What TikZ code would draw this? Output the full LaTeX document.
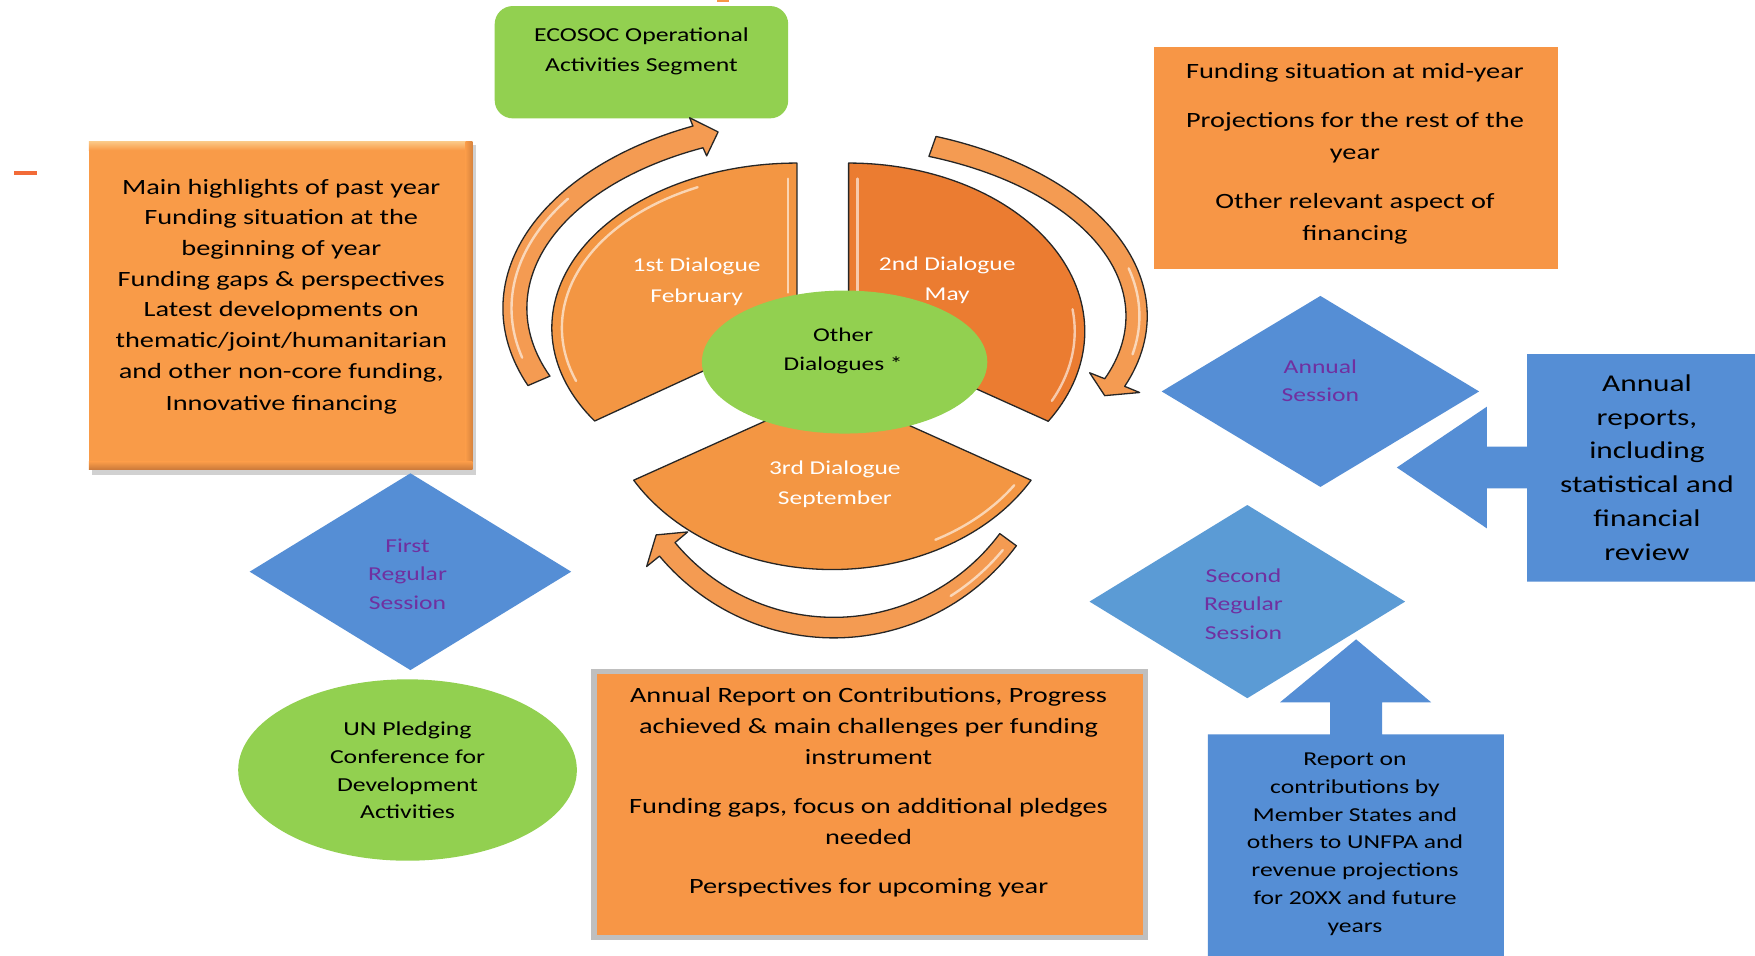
\documentclass[tikz,border=0pt]{standalone}
\usepackage{fontspec}
\setmainfont{Carlito}[FakeStretch=1.3]
\usetikzlibrary{shapes.geometric}
\definecolor{orbox}{HTML}{F79646}
\definecolor{orleft}{HTML}{F99B48}
\definecolor{orlight}{HTML}{FBC785}
\definecolor{ordarkR}{HTML}{D8843E}
\definecolor{ordarkB}{HTML}{C9783A}
\definecolor{orwedge}{HTML}{F39643}
\definecolor{orwedgeB}{HTML}{EB7C31}
\definecolor{orarrow}{HTML}{F49B52}
\definecolor{grn}{HTML}{92D050}
\definecolor{blueA}{HTML}{558ED5}
\definecolor{blueB}{HTML}{5B9BD5}
\definecolor{purp}{HTML}{7030A0}
\definecolor{grayborder}{HTML}{BFBFBF}
\definecolor{dashor}{HTML}{F26B38}
\newcommand\fsLeft{\fontsize{21.8pt}{30.7pt}\selectfont}
\newcommand\fsTR{\fontsize{21.8pt}{31.8pt}\selectfont}
\newcommand\fsBot{\fontsize{21.8pt}{30.8pt}\selectfont}
\newcommand\fsDia{\fontsize{19.6pt}{30.6pt}\selectfont}
\newcommand\fsOther{\fontsize{19.5pt}{28.8pt}\selectfont}
\newcommand\fsDiam{\fontsize{19.7pt}{28.4pt}\selectfont}
\newcommand\fsUN{\fontsize{19.8pt}{27.6pt}\selectfont}
\newcommand\fsEco{\fontsize{19.8pt}{30.1pt}\selectfont}
\newcommand\fsRep{\fontsize{19.7pt}{27.8pt}\selectfont}
\newcommand\fsBig{\fontsize{24.1pt}{33.7pt}\selectfont}
% block circular arrow: cx cy rx ry halfthick headhalf tail-angle headbase-angle tip-angle
\newcommand\cycarrow[9]{%
 \filldraw[cycarrowstyle] plot[domain=0:1,samples=60] ({#1+(#3+#5)*cos(#7+(#8-#7)*\x)},{#2+(#4+#5)*sin(#7+(#8-#7)*\x)})
 -- ({#1+(#3+#6)*cos(#8)},{#2+(#4+#6)*sin(#8)})
 -- ({#1+#3*cos(#9)},{#2+#4*sin(#9)})
 -- ({#1+(#3-#6)*cos(#8)},{#2+(#4-#6)*sin(#8)})
 -- plot[domain=0:1,samples=60] ({#1+(#3-#5)*cos(#8+(#7-#8)*\x)},{#2+(#4-#5)*sin(#8+(#7-#8)*\x)})
 -- cycle;}
\newcommand\glossarc[6]{%
 \draw[gloss] plot[domain=#5:#6,samples=40] ({#1+#3*cos(\x)},{#2+#4*sin(\x)});}
\tikzset{
 cycarrowstyle/.style={fill=orarrow, draw=black!85, line width=1.3pt, line join=round},
 wedgestyle/.style={draw=black!85, line width=1.3pt, line join=round},
 gloss/.style={draw=white, opacity=.6, line width=2.4pt, line cap=round},
 txt/.style={align=center, inner sep=0pt, text=black},
 wtxt/.style={align=center, inner sep=0pt, text=white},
 ptxt/.style={align=center, inner sep=0pt, text=purp},
 plainbox/.style={rectangle, inner sep=0pt, outer sep=0pt},
}
\begin{document}
\begin{tikzpicture}[x=1.1193pt, y=-1.1168pt]
\useasboundingbox (0,0) rectangle (1568,856);
\clip (0,0) rectangle (1568,856);
\fill[white] (0,0) rectangle (1568,856);

% small marks
\fill[dashor] (12.8,152.8) rectangle (33.3,156.7);
\fill[orbox] (641,0) rectangle (651,1.8);

% ECOSOC box
\node[plainbox, fill=grn, rounded corners=18pt, minimum width=293.5pt, minimum height=112.3pt] (ecosoc) at (573.1,55.7) {};
\node[txt, font=\fsEco] (ecosoctxt) at (573.1,45.6) {ECOSOC Operational\\Activities Segment};

% left highlights box
\fill[black, opacity=.18] (82,130) rectangle (425.5,425);
\node[plainbox, fill=orleft, minimum width=383.4pt, minimum height=328.2pt] (highlights) at (250.75,273.85) {};
\fill[top color=orlight, bottom color=orleft] (79.5,126.9) rectangle (422,134.5);
\fill[left color=orleft, right color=ordarkR] (416,126.9) rectangle (422,420.8);
\fill[top color=orleft, bottom color=ordarkB] (79.5,413.5) rectangle (422,420.8);
\node[txt, font=\fsLeft] (highlightstxt) at (251.3,265.5) {Main highlights of past year\\Funding situation at the\\beginning of year\\Funding gaps \& perspectives\\Latest developments on\\thematic/joint/humanitarian\\and other non-core funding,\\[1.5pt]Innovative financing};

% top right box
\node[plainbox, fill=orbox, minimum width=404pt, minimum height=222.4pt] (midyear) at (1211.65,141.35) {};
\node[txt, font=\fsTR] (midyeartxt) at (1210.6,137.4) {Funding situation at mid-year\\[17.4pt]Projections for the rest of the\\year\\[17.4pt]Other relevant aspect of\\financing};

% bottom box
\node[plainbox, fill=orbox, draw=grayborder, line width=5.6pt, minimum width=551.4pt, minimum height=266pt] (annualreport) at (777.1,720.4) {};
\node[txt, font=\fsBot] (annualreporttxt) at (776,709.6) {Annual Report on Contributions, Progress\\achieved \& main challenges per funding\\instrument\\[18.4pt]Funding gaps, focus on additional pledges\\needed\\[18.4pt]Perspectives for upcoming year};

% diamonds
\node[diamond, fill=blueA, minimum width=317.4pt, minimum height=191pt, inner sep=0pt, outer sep=0pt] (annual) at (1179.7,350.5) {};
\node[ptxt, font=\fsDiam] (annualtxt) at (1179.7,341) {Annual\\Session};
\node[diamond, fill=blueB, minimum width=315.6pt, minimum height=193.2pt, inner sep=0pt, outer sep=0pt] (second) at (1114.4,538.7) {};
\node[ptxt, font=\fsDiam] (secondtxt) at (1111,541) {Second\\Regular\\Session};
\node[diamond, fill=blueA, minimum width=321.5pt, minimum height=196.8pt, inner sep=0pt, outer sep=0pt] (first) at (366.7,511.9) {};
\node[ptxt, font=\fsDiam] (firsttxt) at (364.1,514.1) {First\\Regular\\Session};

% UN pledging ellipse
\node[ellipse, fill=grn, minimum width=338.7pt, minimum height=181.4pt, inner sep=0pt, outer sep=0pt] (pledging) at (364.1,689.5) {};
\node[txt, font=\fsUN] (pledgingtxt) at (364.1,689.9) {UN Pledging\\Conference for\\Development\\Activities};

% blue callout arrows
\fill[blueA] (1248,418.6) -- (1328.4,364.2) -- (1328.4,400) -- (1364.3,400) -- (1364.3,317) -- (1580,317) -- (1580,520.8) -- (1364.3,520.8) -- (1364.3,437.2) -- (1328.4,437.2) -- (1328.4,473.1) -- cycle;
\node[txt, font=\fsBig] (reportstxt) at (1471.5,418.6) {Annual\\reports,\\including\\statistical and\\financial\\review};
\fill[blueA] (1211.6,572.5) -- (1278.7,628.9) -- (1234.8,628.9) -- (1234.8,657.5) -- (1343.6,657.5) -- (1343.6,870) -- (1079.1,870) -- (1079.1,657.5) -- (1188.4,657.5) -- (1188.4,628.9) -- (1143.6,628.9) -- cycle;
\node[txt, font=\fsRep] (contribtxt) at (1210.6,755.9) {Report on\\contributions by\\Member States and\\others to UNFPA and\\revenue projections\\for 20XX and future\\years};

% circular arrows
\cycarrow{736}{276}{276}{168}{10.7}{18.7}{157.2}{246}{250}
\glossarc{736}{276}{279}{171}{165}{215}
\cycarrow{736}{283}{279.5}{162}{9.5}{24}{290.3}{381.6}{386.1}
\glossarc{736}{283}{282}{165}{345}{372}
\cycarrow{745}{364}{195}{198}{9.2}{24}{37}{139.8}{144.5}
\glossarc{745}{364}{197}{200}{40}{58}

% pie wedges
\filldraw[wedgestyle, fill=orwedge] (712,293.6) -- plot[domain=145.6:270,samples=70] ({712+219*cos(\x)},{293.6+147.6*sin(\x)}) -- cycle;
\glossarc{712}{293.6}{210}{139}{160}{245}
\draw[gloss] (704,160) -- (704,262);
\filldraw[wedgestyle, fill=orwedgeB] (758.2,296.7) -- plot[domain=270:392.3,samples=70] ({758.2+211*cos(\x)},{296.7+150.7*sin(\x)}) -- cycle;
\glossarc{758.2}{296.7}{202}{142}{352}{386}
\draw[gloss] (766,160) -- (766,262);
\filldraw[wedgestyle, fill=orwedge] (743.7,350) -- plot[domain=30:150,samples=70] ({743.7+205*cos(\x)},{350+160*sin(\x)}) -- cycle;
\glossarc{743.7}{350}{196}{151}{34}{62}

\node[wtxt, font=\fsDia] (d1txt) at (622.4,252.5) {1st Dialogue\\February};
\node[wtxt, font=\fsDia] (d2txt) at (846.3,251) {2nd Dialogue\\May};
\node[wtxt, font=\fsDia] (d3txt) at (745.9,433.7) {3rd Dialogue\\September};

% other dialogues
\node[ellipse, fill=grn, minimum width=285.4pt, minimum height=143pt, inner sep=0pt, outer sep=0pt] (other) at (754.6,324.2) {};
\node[txt, font=\fsOther] (othertxt) at (753.3,314.5) {Other\\Dialogues *};
\end{tikzpicture}
\end{document}
